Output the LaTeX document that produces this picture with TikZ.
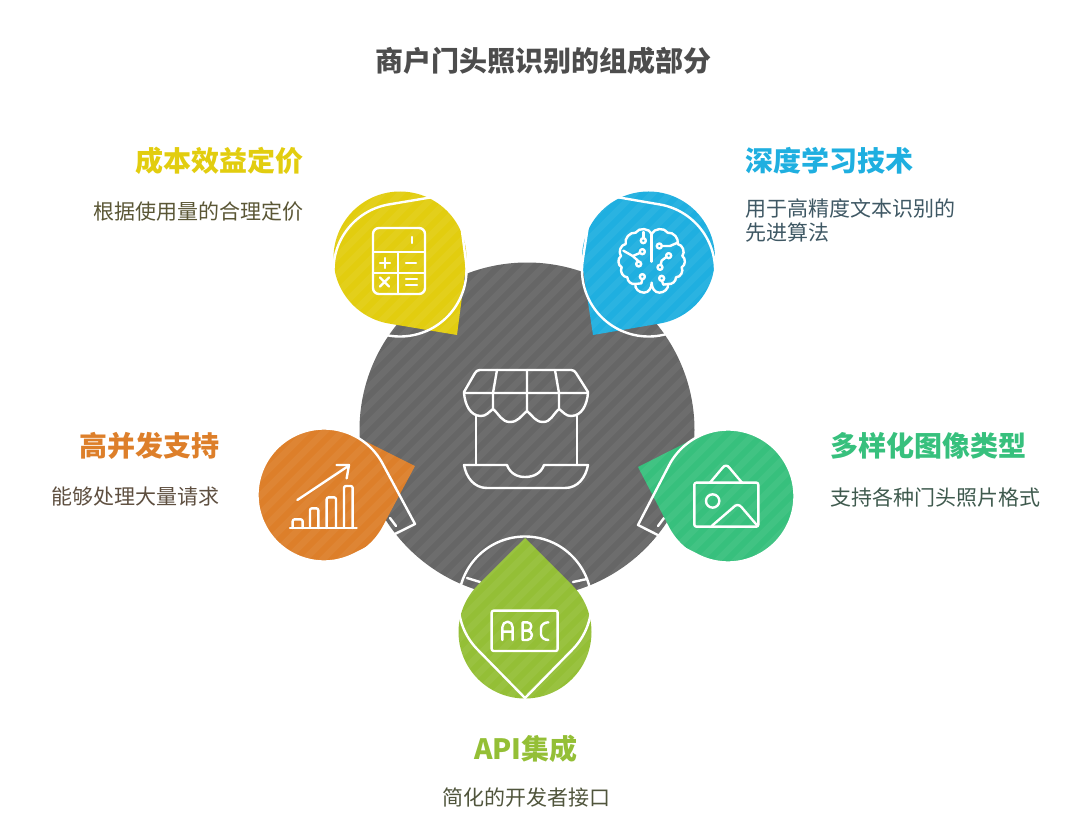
\documentclass[tikz,border=0pt]{standalone}
\usepackage{fontspec}
\setmainfont{Noto Sans CJK SC}
\definecolor{cgrey}{HTML}{666666}
\definecolor{cyellow}{HTML}{E2CD0F}
\definecolor{cblue}{HTML}{1FAFE0}
\definecolor{corange}{HTML}{DD7F2A}
\definecolor{cgreen}{HTML}{37C07D}
\definecolor{clime}{HTML}{94BF36}
\definecolor{ttitle}{HTML}{4D4D4D}
\definecolor{dyellow}{HTML}{5A5635}
\definecolor{dblue}{HTML}{3F5864}
\definecolor{dorange}{HTML}{5E4F40}
\definecolor{dgreen}{HTML}{3F5A4E}
\definecolor{dlime}{HTML}{50553C}
\newcommand{\rr}{66.5}
\newcommand{\dropset}[4]{%
  \pgfmathsetmacro\dA{atan2((#4)-(#2),(#3)-(#1))}%
  \pgfmathsetmacro\dB{acos(\rr/veclen((#3)-(#1),(#4)-(#2)))}%
  \pgfmathsetmacro\dS{\dA+\dB}%
  \pgfmathsetmacro\dD{360-2*\dB}%
  \pgfmathsetmacro\dX{(#1)+\rr*cos(\dS)}%
  \pgfmathsetmacro\dY{(#2)+\rr*sin(\dS)}}
\newcommand{\stripes}{%
  \foreach \k in {-840,-822,...,1080} {\draw[stripeline] (\k,840) -- (\k+840,0);}}
\newcommand{\colordrop}[5]{%
  \dropset{#2}{#3}{#4}{#5}%
  \fill[#1] (#4,#5) -- (\dX,\dY) arc[start angle=\dS,delta angle=\dD,radius=\rr] -- cycle;
  \begin{scope}
    \clip (#4,#5) -- (\dX,\dY) arc[start angle=\dS,delta angle=\dD,radius=\rr] -- cycle;
    \stripes
  \end{scope}}
\newcommand{\whitedrop}[4]{%
  \dropset{#1}{#2}{#3}{#4}%
  \draw[wline] (#3,#4) -- (\dX,\dY) arc[start angle=\dS,delta angle=\dD,radius=\rr] -- cycle;}
\tikzset{
  wline/.style={draw=white,line width=2.4pt,line cap=round,line join=round},
  stripeline/.style={draw=white,draw opacity=0.05,line width=6.4pt},
  head/.style={font=\fontsize{28}{32}\selectfont\bfseries,inner sep=0pt},
  desc/.style={font=\fontsize{21}{24}\selectfont,inner sep=0pt,align=left},
}
\begin{document}
\begin{tikzpicture}[x=1pt,y=-1pt]
\useasboundingbox (0,0) rectangle (1080,840);
% central disc
\fill[cgrey] (527,430) circle[radius=167.5];
\begin{scope}
  \clip (527,430) circle[radius=167.5];
  \stripes
\end{scope}
% small ticks under the drops
\draw[wline] (390,518) -- (396,526);
\draw[wline] (658,526) -- (664,518);
\draw[wline] (467,578) -- (480,582);
\draw[wline] (573,582) -- (587,579);
% coloured drops
\colordrop{cyellow}{400}{258}{457}{335}
\colordrop{cblue}{648.5}{258}{593}{335}
\colordrop{corange}{324}{495}{415}{466}
\colordrop{cgreen}{728}{496}{638}{467}
\colordrop{clime}{525}{632}{525}{538}
% white outlines
\whitedrop{400}{270}{457}{193}
\whitedrop{648.5}{270}{593}{193}
\whitedrop{324}{495}{415}{524}
\whitedrop{728}{496}{638}{525}
\whitedrop{525}{603}{525}{698}
% storefront icon
\draw[wline] (464,393) -- (464,392) -- (475,373) to[out=60,in=180] (480,370) -- (571,370) to[out=0,in=120] (576,373) -- (588,392) -- (588,393) -- cycle;
\draw[wline] (497,370) -- (493,393) (527,370) -- (527,393) (555,370) -- (559,393);
\draw[wline] (464,393) to[out=-85,in=180] (481,416) to[out=0,in=-145] (493,409) -- (493,393);
\draw[wline] (493,409) to[out=-40,in=180] (510,422) to[out=0,in=-140] (527,411) -- (527,393);
\draw[wline] (527,411) to[out=-40,in=180] (543,422) to[out=0,in=-140] (559,409) -- (559,393);
\draw[wline] (559,409) to[out=-35,in=180] (571,416) to[out=0,in=-95] (588,393);
\draw[wline] (476,416) -- (476,465) (577,416) -- (577,465);
\draw[wline] (464,465) -- (507,465) to[out=-70,in=180] (525,477) to[out=0,in=-110] (544,465) -- (588,465) to[out=-100,in=0] (565,488) -- (487,488) to[out=180,in=-80] (464,465) -- cycle;
% calculator icon
\draw[wline] (373,252) -- (425,252) (373,273) -- (425,273) (398,252) -- (398,294);
\draw[wline,rounded corners=6pt] (373,228) rectangle (425,294);
\draw[wline] (412,237) -- (412,243);
\draw[wline] (380,263) -- (390,263) (385,258) -- (385,268);
\draw[wline] (406,263) -- (416,263);
\draw[wline] (380,277.5) -- (389,286.5) (389,277.5) -- (380,286.5);
\draw[wline] (406,279) -- (417,279) (406,285) -- (417,285);
% brain icon
\begin{scope}[shift={(610,220)},x=0.3333pt,y=-0.3333pt]
\draw[wline] (125,42) -- (125,125);
\draw[wline] (125,42) to[bend right=65] (77,38) to[bend right=55] (47,72) to[bend right=60] (33,108) to[bend right=60] (35,142) to[bend right=60] (52,172) to[bend right=50] (76,192) to[out=-100,in=180] (102,218) to[out=0,in=-90] (125,188) to[out=-90,in=180] (148,218) to[out=0,in=-80] (174,192) to[bend right=50] (198,172) to[bend right=60] (215,142) to[bend right=60] (217,108) to[bend right=60] (203,72) to[bend right=55] (173,38) to[bend right=65] (125,42);
\draw[wline] (100,62) circle[radius=7.5];
\draw[wline] (100,54) -- (100,36);
\draw[wline] (97,95) circle[radius=7.5];
\draw[wline] (90,99) -- (68,108) -- (40,92);
\draw[wline] (86,132) circle[radius=7.5];
\draw[wline] (86,124) -- (68,108);
\draw[wline] (97,170) circle[radius=7.5];
\draw[wline] (97,178) -- (94,190) -- (76,192);
\draw[wline] (148,78) circle[radius=7.5];
\draw[wline] (156,78) -- (180,78) -- (203,68);
\draw[wline] (176,107) circle[radius=7.5];
\draw[wline] (169,111) -- (155,122) -- (152,134);
\draw[wline] (150,142) circle[radius=7.5];
\draw[wline] (155,175) circle[radius=7.5];
\draw[wline] (156,183) -- (160,194) -- (174,192);
\end{scope}
% chart icon
\begin{scope}[shift={(240,410)},x=0.3333pt,y=-0.3333pt]
\draw[wline] (150,354) -- (350,354);
\draw[wline,rounded corners=2pt] (158,354) -- (158,328) -- (188,328) -- (188,354);
\draw[wline,rounded corners=2pt] (210,354) -- (210,295) -- (235,295) -- (235,354);
\draw[wline,rounded corners=2pt] (260,354) -- (260,262) -- (288,262) -- (288,354);
\draw[wline,rounded corners=2pt] (312,354) -- (312,228) -- (338,228) -- (338,354);
\draw[wline] (172,270) -- (325,168);
\draw[wline] (290,165) -- (327,165) -- (320,205);
\end{scope}
% picture icon
\begin{scope}[shift={(630,420)},x=0.3333pt,y=-0.3333pt]
\draw[wline,rounded corners=2pt] (193,188) rectangle (385,320);
\draw[wline] (240,188) -- (278,143) to[out=50,in=180] (288,137) to[out=0,in=130] (298,143) -- (336,188);
\draw[wline] (248,243) circle[radius=20];
\draw[wline] (245,318) -- (310,262) to[out=40,in=180] (322,255) to[out=0,in=130] (335,262) -- (383,318);
\end{scope}
% ABC icon
\begin{scope}[shift={(440,520)},x=0.3333pt,y=-0.3333pt]
\draw[wline,rounded corners=2pt] (155,272) rectangle (353,393);
\draw[wline] (187,360) -- (187,322) to[out=90,in=180] (203,305) to[out=0,in=90] (218,322) -- (218,360) (187,335) -- (218,335);
\draw[wline] (248,307) -- (248,360) -- (262,360) to[out=0,in=-90] (276,345) to[out=90,in=0] (262,332) -- (248,332) (262,332) to[out=0,in=-90] (274,319) to[out=90,in=0] (262,307) -- (248,307);
\draw[wline] (325,307) to[out=180,in=90] (303,325) -- (303,342) to[out=-90,in=180] (325,360);
\end{scope}
% texts
\node[head,text=ttitle] (title) at (543,61) {商户门头照识别的组成部分};
\node[head,text=cyellow,anchor=east] (h1) at (304,161) {成本效益定价};
\node[desc,text=dyellow,anchor=east] (d1) at (304,212) {根据使用量的合理定价};
\node[head,text=cblue,anchor=west] (h2) at (745,161) {深度学习技术};
\node[desc,text=dblue,anchor=west] (d2) at (745,220) {用于高精度文本识别的\\先进算法};
\node[head,text=corange,anchor=east] (h3) at (220,446) {高并发支持};
\node[desc,text=dorange,anchor=east] (d3) at (220,497) {能够处理大量请求};
\node[head,text=cgreen,anchor=west] (h4) at (830,446) {多样化图像类型};
\node[desc,text=dgreen,anchor=west] (d4) at (830,497) {支持各种门头照片格式};
\node[head,text=clime] (h5) at (526,749) {API集成};
\node[desc,text=dlime] (d5) at (526,798) {简化的开发者接口};
\end{tikzpicture}
\end{document}
